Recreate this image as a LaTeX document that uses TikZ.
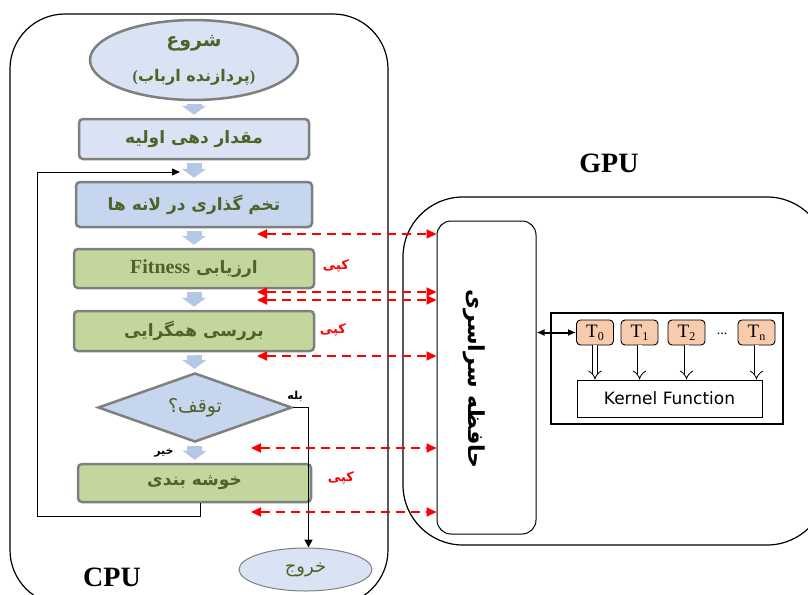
\documentclass[tikz,border=0pt]{standalone}
\usepackage{fontspec}
\setmainfont{Liberation Serif}
\newfontfamily\fa[Script=Arabic]{DejaVu Sans}
\newfontfamily\kernelfont{DejaVu Sans}
\TeXXeTstate=1
\usetikzlibrary{shapes.geometric,arrows.meta}

\definecolor{boxline}{HTML}{7F7F7F}
\definecolor{paleblue}{HTML}{DAE3F3}
\definecolor{midblue}{HTML}{C6D6EE}
\definecolor{palegreen}{HTML}{C3D69B}
\definecolor{textgreen}{HTML}{4F6228}
\definecolor{flowblue}{HTML}{B4C7E7}
\definecolor{threadfill}{HTML}{F8CBAD}

\newcommand{\fatext}[1]{\beginR #1\endR}

\begin{document}
\begin{tikzpicture}[x=1pt, y=-1pt,
    stage/.style={rectangle, rounded corners=4pt, draw=boxline, line width=2.5pt, text=textgreen, inner sep=0pt, font=\fa\bfseries\fontsize{17}{19}\selectfont},
    flowarrow/.style={draw=flowblue, line width=15pt, -{Triangle[width=24pt,length=9pt]}, shorten <=3pt, shorten >=3pt},
    copyarrow/.style={draw=red, line width=1.8pt, dash pattern=on 9pt off 6pt, {Triangle[length=10pt,width=9pt]}-{Triangle[length=10pt,width=9pt]}},
    copylabel/.style={text=red, font=\fa\bfseries\fontsize{13}{15}\selectfont},
    thread/.style={rectangle, rounded corners=4pt, draw, line width=0.9pt, fill=threadfill, minimum width=37pt, minimum height=25pt, inner sep=0pt, font=\fontsize{19}{19}\selectfont},
    hollow/.style={double, double distance=4pt, line width=0.8pt, -{Implies}}]
    \useasboundingbox (0,0) rectangle (808,594);
    \clip (0,0) rectangle (808,594);

    % CPU and GPU sides
    \draw[line width=1.2pt, rounded corners=55pt] (10,14) rectangle (388,605);
    \draw[line width=1.2pt, rounded corners=60pt] (403,197) rectangle (827,545);
    \node[font=\bfseries\fontsize{28}{30}\selectfont] (cpu) at (112,577) {CPU};
    \node[font=\bfseries\fontsize{28}{30}\selectfont] (gpu) at (609,163) {GPU};

    % flowchart on the host
    \node[ellipse, draw=boxline, line width=2.5pt, fill=paleblue, minimum width=208pt, minimum height=74pt, text=textgreen, font=\fa\bfseries, align=center] (start) at (194,60)
        {{\fontsize{19}{21}\selectfont\fatext{شروع}}\\[17pt]{\fontsize{16}{18}\selectfont{\rmfamily(}\fatext{پردازنده ارباب}{\rmfamily)}}};
    \node[stage, fill=paleblue, minimum width=230pt, minimum height=40pt] (init) at (194,139) {\fatext{مقدار دهی اولیه}};
    \node[stage, fill=midblue, minimum width=236pt, minimum height=45pt] (eggs) at (194,204.5) {\fatext{تخم گذاری در لانه ها}};
    \node[stage, fill=palegreen, minimum width=240pt, minimum height=39pt] (fitness) at (194,268.5)
        {\fatext{ارزیابی \beginL{\rmfamily\bfseries\fontsize{20}{21}\selectfont Fitness}\endL}};
    \node[stage, fill=palegreen, minimum width=240pt, minimum height=40pt] (converge) at (194,331) {\fatext{بررسی همگرایی}};
    \node[diamond, draw=boxline, line width=2.5pt, fill=midblue, aspect=2.8, minimum width=194pt, minimum height=69pt, inner sep=0pt] (stop) at (195,407.5) {};
    \node[text=textgreen, font=\fa\fontsize{19}{21}\selectfont] (stoplabel) at (stop.center) {توقف؟};
    \node[stage, fill=palegreen, minimum width=233pt, minimum height=38pt] (cluster) at (194.5,483) {\fatext{خوشه بندی}};
    \node[ellipse, draw=boxline, line width=1pt, fill=paleblue, minimum width=133pt, minimum height=43pt, text=textgreen, font=\fa\fontsize{18}{20}\selectfont] (exit) at (305.5,569.5) {خروج};

    \draw[flowarrow] (start) -- (init);
    \draw[flowarrow] (init) -- (eggs);
    \draw[flowarrow] (eggs) -- (fitness);
    \draw[flowarrow] (fitness) -- (converge);
    \draw[flowarrow] (converge) -- (stop);
    \draw[flowarrow] (stop) -- (cluster);

    \node[font=\fa\bfseries\fontsize{11}{13}\selectfont] (yes) at (295,396) {بله};
    \node[font=\fa\bfseries\fontsize{11}{13}\selectfont] (no) at (164,453) {خیر};
    \draw[line width=1.5pt, -{Triangle[length=8pt,width=8pt]}] (stop.east) -| ([xshift=3pt]exit.north);

    \coordinate (loopcorner) at (37,516);
    \coordinate (backin) at (180,172);
    \draw[line width=0.8pt, -{Triangle[length=8pt,width=7pt]}] ([xshift=6pt]cluster.south) |- (loopcorner) |- (backin);

    % device side
    \node[draw, line width=1pt, rounded corners=14pt, minimum width=99pt, minimum height=313pt] (gmem) at (486.5,377.5) {};
    \node[rotate=-90, font=\fa\bfseries\fontsize{22}{24}\selectfont] (gmemlabel) at (474,379) {\fatext{حافظه سراسری}};

    \node[draw, line width=2.5pt, minimum width=232pt, minimum height=111pt] (block) at (667,368.5) {};
    \node[thread] (t0) at (595,332.5) {T\raisebox{-3pt}{\fontsize{12}{12}\selectfont 0}};
    \node[thread] (t1) at (639.5,332.5) {T\raisebox{-3pt}{\fontsize{12}{12}\selectfont 1}};
    \node[thread] (t2) at (686.5,332.5) {T\raisebox{-3pt}{\fontsize{12}{12}\selectfont 2}};
    \node[font=\fontsize{14}{14}\selectfont] (dots) at (722,334) {...};
    \node[thread] (tn) at (756.5,332.5) {T\raisebox{-3pt}{\fontsize{12}{12}\selectfont n}};
    \node[draw, line width=0.8pt, minimum width=185pt, minimum height=37pt, font=\kernelfont\fontsize{17}{19}\selectfont] (kernel) at (669.5,398.5) {Kernel Function};

    \foreach \t in {t0,t1,t2,tn}
        \draw[hollow] (\t) -- (\t |- kernel.north);
    \draw[line width=2pt, {Latex[length=8pt,width=7pt]}-{Latex[length=8pt,width=7pt]}] (gmem.east |- t0) -- (t0.west);

    % copies between host and device
    \foreach \i/\xx/\yy in {1/257/234, 2/257/292, 3/257/300, 4/257/356, 5/251/448, 6/251/512} {
        \coordinate (c\i) at (\xx,\yy);
        \draw[copyarrow] (c\i) -- (c\i -| gmem.west);
    }
    \node[copylabel] (copy1) at (336,266) {کپی};
    \node[copylabel] (copy2) at (333,330) {کپی};
    \node[copylabel] (copy3) at (341,478) {کپی};
\end{tikzpicture}
\end{document}
